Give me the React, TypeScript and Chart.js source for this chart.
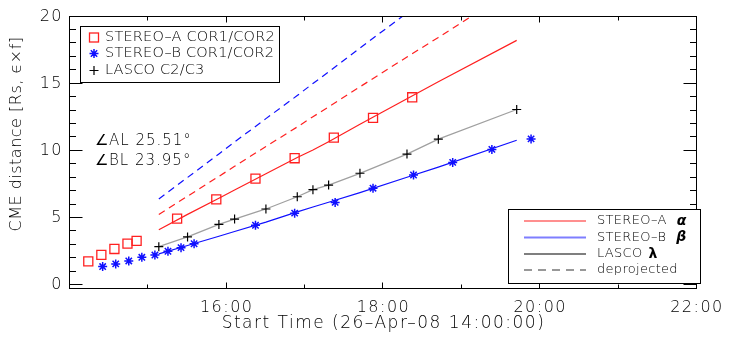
import React, { useEffect, useRef } from 'react';
import { Chart, registerables } from 'chart.js';

Chart.register(...registerables);

// ---- data ----
const lascoTimes = ['15:08', '15:30', '15:54', '16:06', '16:30', '16:54', '17:06', '17:18', '17:42', '18:18', '18:42', '19:42'];
const lascoDist = [2.86, 3.59, 4.52, 4.92, 5.67, 6.58, 7.11, 7.45, 8.33, 9.76, 10.87, 13.08];

const stereoATimes = ['14:14', '14:24', '14:34', '14:44', '14:51', '15:22', '15:52', '16:22', '16:52', '17:22', '17:52', '18:22'];
const stereoADist = [1.77, 2.25, 2.69, 3.09, 3.29, 4.95, 6.39, 7.93, 9.45, 10.98, 12.46, 13.99];

const stereoBTimes = ['14:25', '14:35', '14:45', '14:55', '15:05', '15:15', '15:25', '15:35', '16:22', '16:52', '17:23', '17:52', '18:23', '18:53', '19:23', '19:53'];
const stereoBDist = [1.38, 1.58, 1.80, 2.07, 2.24, 2.52, 2.79, 3.08, 4.46, 5.36, 6.16, 7.22, 8.20, 9.14, 10.11, 10.89];

// curves evaluated at the LASCO times
const fitA = [4.12, 5.27, 6.47, 7.08, 8.29, 9.50, 10.06, 10.68, 11.98, 13.88, 15.15, 18.23];
const fitB = [2.33, 2.95, 3.64, 3.99, 4.69, 5.45, 5.82, 6.17, 6.89, 8.03, 8.79, 10.79];
const deprojA = [5.26, 6.62, 8.10, 8.85, 10.32, 11.78, 12.54, 13.27, 14.77, 16.99, 18.45, 22.16];
const deprojB = [6.42, 8.02, 9.77, 10.66, 12.40, 14.12, 15.02, 15.88, 17.66, 20.27, 22.0, 26.38];

const xTickHours = [14, 15, 16, 17, 18, 19, 20, 21, 22];
const xTickLabels = ['', '', '16:00', '', '18:00', '', '20:00', '', '22:00'];
const yMajorTicks = [0, 5, 10, 15, 20];
const yMinorTicks = [1, 2, 3, 4, 6, 7, 8, 9, 11, 12, 13, 14, 16, 17, 18, 19];

const angleLabels = ['\u2220AL 25.51\u00b0', '\u2220BL 23.95\u00b0'];
const symbolLegend = ['STEREO\u2013A COR1/COR2', 'STEREO\u2013B COR1/COR2', 'LASCO C2/C3'];
const lineLegend = ['STEREO\u2013A', 'STEREO\u2013B', 'LASCO', 'deprojected'];
const lineLegendGreek = ['\u03b1', '\u03b2', '\u03bb', ''];

const RED = '#ff2020';
const BLUE = '#1010ff';
const GRAY = '#a0a0a0';
const TEXT = '#000';
const FONT = '"DejaVu Sans", sans-serif';

const toHours = (t: string) => {
  const [h, m] = t.split(':').map(Number);
  return h + m / 60;
};
const pts = (times: string[], vals: number[]) => times.map((t, i) => ({ x: toHours(t), y: vals[i] }));

function drawSquare(ctx: CanvasRenderingContext2D, x: number, y: number, s: number) {
  ctx.strokeRect(x - s / 2, y - s / 2, s, s);
}
function drawStar(ctx: CanvasRenderingContext2D, x: number, y: number, r: number) {
  ctx.beginPath();
  for (let k = 0; k < 4; k++) {
    const a = (k * Math.PI) / 4;
    ctx.moveTo(x - r * Math.cos(a), y - r * Math.sin(a));
    ctx.lineTo(x + r * Math.cos(a), y + r * Math.sin(a));
  }
  ctx.stroke();
}
function drawPlus(ctx: CanvasRenderingContext2D, x: number, y: number, r: number) {
  ctx.beginPath();
  ctx.moveTo(x - r, y);
  ctx.lineTo(x + r, y);
  ctx.moveTo(x, y - r);
  ctx.lineTo(x, y + r);
  ctx.stroke();
}

const decorPlugin = {
  id: 'decor',
  beforeDraw(chart: any) {
    (chart.ctx as any).letterSpacing = '1.5px';
  },
  afterDraw(chart: any) {
    const ctx: any = chart.ctx;
    const ca = chart.chartArea;
    const xs = chart.scales.x;
    const ys = chart.scales.y;
    ctx.save();
    ctx.letterSpacing = '0px';
    ctx.lineWidth = 1;
    ctx.strokeStyle = '#000';
    ctx.setLineDash([]);
    const L = Math.round(ca.left) - 0.5;
    const R = Math.round(ca.right) - 0.5;
    const T = Math.round(ca.top) - 0.5;
    const B = Math.round(ca.bottom) - 0.5;
    ctx.strokeRect(L, T, R - L, B - T);

    // inward ticks
    ctx.beginPath();
    xTickHours.forEach((h) => {
      const px = Math.round(xs.getPixelForValue(h)) - 0.5;
      const len = h % 2 === 0 ? 6 : 4;
      ctx.moveTo(px, B);
      ctx.lineTo(px, B - len);
      ctx.moveTo(px, T);
      ctx.lineTo(px, T + len);
    });
    const yt = (v: number, len: number) => {
      const py = Math.round(ys.getPixelForValue(v)) - 0.5;
      ctx.moveTo(L, py);
      ctx.lineTo(L + len, py);
      ctx.moveTo(R, py);
      ctx.lineTo(R - len, py);
    };
    yMajorTicks.forEach((v) => yt(v, 13));
    yMinorTicks.forEach((v) => yt(v, 6.5));
    ctx.stroke();

    // y axis title
    ctx.save();
    ctx.translate(17, 134);
    ctx.rotate(-Math.PI / 2);
    ctx.fillStyle = TEXT;
    ctx.font = `200 16px ${FONT}`;
    ctx.letterSpacing = '0.5px';
    ctx.textAlign = 'center';
    ctx.textBaseline = 'middle';
    ctx.fillText('CME distance [Rs, \u03f5\u00d7f]', 0, 0);
    ctx.restore();

    // symbol legend (top-left)
    ctx.fillStyle = '#fff';
    ctx.fillRect(81, 27, 198, 55);
    ctx.strokeStyle = '#000';
    ctx.strokeRect(80.5, 26.5, 199, 56);
    const rows1 = [37.5, 53.5, 70.5];
    ctx.lineWidth = 1.3;
    ctx.strokeStyle = RED;
    drawSquare(ctx, 94, rows1[0], 9);
    ctx.strokeStyle = BLUE;
    ctx.lineWidth = 1.5;
    drawStar(ctx, 94, rows1[1], 4.5);
    ctx.strokeStyle = '#000';
    ctx.lineWidth = 1.2;
    drawPlus(ctx, 94, rows1[2], 4.5);
    ctx.fillStyle = TEXT;
    ctx.font = `200 14.5px ${FONT}`;
    ctx.letterSpacing = '0.2px';
    ctx.textAlign = 'left';
    ctx.textBaseline = 'middle';
    symbolLegend.forEach((t, i) => ctx.fillText(t, 105, rows1[i]));

    // angle annotation
    ctx.font = `200 15px ${FONT}`;
    ctx.letterSpacing = '1px';
    ctx.fillText(angleLabels[0], 95, 141);
    ctx.fillText(angleLabels[1], 95, 161);

    // line legend (bottom-right)
    ctx.lineWidth = 1;
    ctx.strokeStyle = '#000';
    ctx.fillStyle = '#fff';
    ctx.fillRect(509, 210, 191, 73);
    ctx.strokeRect(508.5, 209.5, 192, 74);
    const rows2 = [221, 237.5, 254, 270];
    const styles = [
      { c: RED, w: 1.2, d: [] as number[] },
      { c: 'rgba(40,40,255,0.6)', w: 2, d: [] as number[] },
      { c: '#000', w: 1.2, d: [] as number[] },
      { c: '#777', w: 1.5, d: [8, 6] },
    ];
    rows2.forEach((y, i) => {
      ctx.beginPath();
      ctx.strokeStyle = styles[i].c;
      ctx.lineWidth = styles[i].w;
      ctx.setLineDash(styles[i].d);
      ctx.moveTo(524, y);
      ctx.lineTo(586, y);
      ctx.stroke();
    });
    ctx.setLineDash([]);
    ctx.fillStyle = TEXT;
    rows2.forEach((y, i) => {
      ctx.font = `200 13px ${FONT}`;
      ctx.letterSpacing = '0.3px';
      ctx.fillText(lineLegend[i], 597, y);
      if (lineLegendGreek[i]) {
        const w = ctx.measureText(lineLegend[i]).width;
        ctx.font = i < 2 ? `italic bold 14px ${FONT}` : `bold 14px ${FONT}`;
        ctx.letterSpacing = '0px';
        ctx.fillText(lineLegendGreek[i], 597 + w + (i < 2 ? 10 : 6), y);
      }
    });
    ctx.restore();
  },
};

export default function App() {
  const ref = useRef<HTMLCanvasElement | null>(null);
  useEffect(() => {
    if (!ref.current) return;
    const lineDs = (vals: number[], color: string, width: number, dash: number[] = []) => ({
      data: pts(lascoTimes, vals),
      showLine: true,
      borderColor: color,
      borderWidth: width,
      borderDash: dash,
      pointRadius: 0,
      fill: false,
    });
    const chart = new Chart(ref.current, {
      type: 'scatter',
      data: {
        datasets: [
          {
            label: 'STEREO-A COR1/COR2',
            data: pts(stereoATimes, stereoADist),
            pointStyle: 'rect',
            pointRadius: 6.4,
            borderColor: RED,
            backgroundColor: 'rgba(0,0,0,0)',
            borderWidth: 1.3,
            showLine: false,
          },
          {
            label: 'STEREO-B COR1/COR2',
            data: pts(stereoBTimes, stereoBDist),
            pointStyle: 'star',
            pointRadius: 4.5,
            borderColor: BLUE,
            backgroundColor: BLUE,
            borderWidth: 1.5,
            showLine: false,
          },
          {
            label: 'LASCO C2/C3',
            data: pts(lascoTimes, lascoDist),
            pointStyle: 'cross',
            pointRadius: 4.5,
            borderColor: '#000',
            borderWidth: 1.2,
            showLine: false,
          },
          { label: 'STEREO-A fit', ...lineDs(fitA, RED, 1.2) },
          { label: 'STEREO-B fit', ...lineDs(fitB, BLUE, 1.2) },
          { label: 'LASCO fit', ...lineDs(lascoDist, GRAY, 1.3) },
          { label: 'STEREO-A deprojected', ...lineDs(deprojA, RED, 1.2, [7, 5]) },
          { label: 'STEREO-B deprojected', ...lineDs(deprojB, BLUE, 1.2, [7, 5]) },
        ] as any,
      },
      options: {
        responsive: false,
        animation: false,
        devicePixelRatio: 1,
        layout: { padding: { left: 0, right: 27, top: 10, bottom: 0 } },
        plugins: { legend: { display: false }, tooltip: { enabled: false } },
        scales: {
          x: {
            type: 'linear',
            min: 14,
            max: 22,
            border: { display: false },
            grid: { display: false, drawTicks: false },
            afterBuildTicks: (s: any) => {
              s.ticks = xTickHours.map((v) => ({ value: v }));
            },
            afterFit: (s: any) => {
              s.height = 57;
            },
            ticks: {
              autoSkip: false,
              maxRotation: 0,
              padding: 9,
              color: TEXT,
              font: { family: FONT, size: 16, weight: '200' },
              callback: (_v: any, i: number) => xTickLabels[i] ?? '',
            },
            title: {
              display: true,
              text: 'Start Time (26\u2013Apr\u201308 14:00:00)',
              color: TEXT,
              font: { family: FONT, size: 17, weight: '200' },
              padding: { top: 0, bottom: 12 },
            },
          },
          y: {
            type: 'linear',
            min: -0.29,
            max: 20,
            border: { display: false },
            grid: { display: false, drawTicks: false },
            afterBuildTicks: (s: any) => {
              s.ticks = yMajorTicks.map((v) => ({ value: v }));
            },
            afterFit: (s: any) => {
              s.width = 70;
            },
            ticks: {
              padding: 7,
              color: TEXT,
              font: { family: FONT, size: 16, weight: '200' },
              callback: (v: any) => String(v),
            },
          },
        },
      } as any,
      plugins: [decorPlugin],
    });
    return () => chart.destroy();
  }, []);
  return (
    <div style={{ position: 'fixed', left: 0, top: 0, width: 729, height: 346, background: '#fff' }}>
      <canvas ref={ref} width={729} height={346} style={{ display: 'block', width: 729, height: 346 }} />
    </div>
  );
}
